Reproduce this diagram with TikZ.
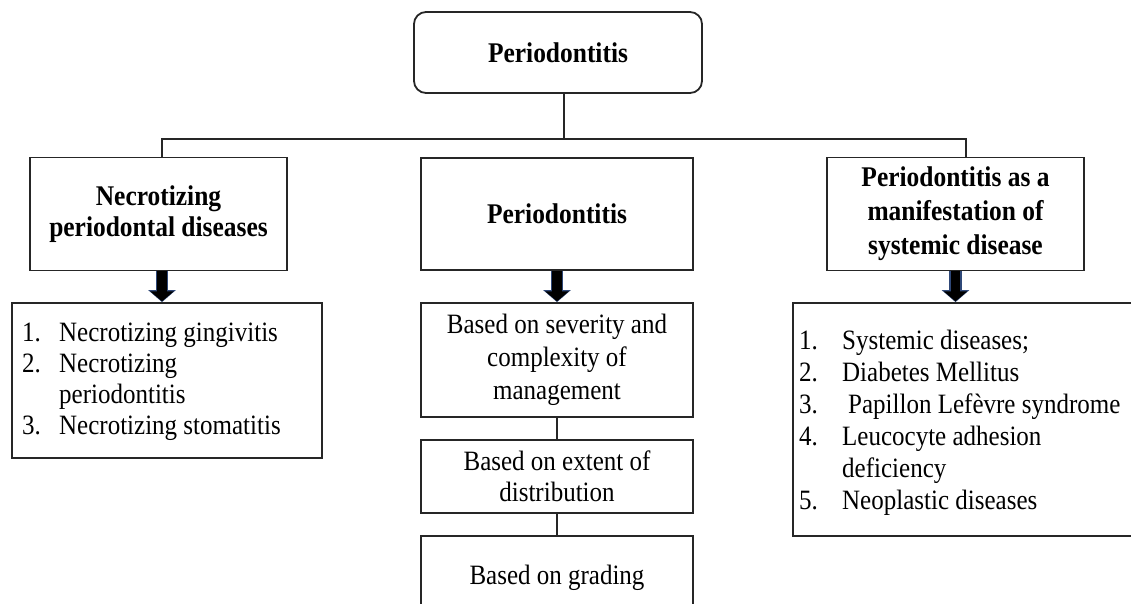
\documentclass[tikz,border=0pt]{standalone}
\usepackage{fontspec}
\setmainfont[FakeStretch=0.893]{Liberation Serif}
\usetikzlibrary{arrows.meta}
\definecolor{arrowedge}{RGB}{47,72,120}
\begin{document}
\begin{tikzpicture}[x=1pt,y=-1pt,
  box/.style={draw=black!85, line width=1.8pt, rectangle, inner sep=0pt, align=center, font=\fontsize{28}{31}\selectfont},
  hdr/.style={box, font=\fontsize{28.5}{31}\selectfont\bfseries},
  conn/.style={draw=black!85, line width=1.8pt},
  listtext/.style={inner sep=0pt, anchor=base west, font=\fontsize{28}{31}\selectfont},
  arrowback/.style={line width=12.5pt, -{Triangle[width=27pt,length=12pt]}, arrowedge},
  blockarrow/.style={line width=9.5pt, -{Triangle[width=23pt,length=10pt]}, black, shorten >=0.8pt}
]
\useasboundingbox (0,0) rectangle (1131,603);
\clip (0,0) rectangle (1131,603);

% top
\node[hdr, rounded corners=12pt, minimum width=288pt, minimum height=81pt] (top) at (558,52.5) {Periodontitis};

% headers
\node[hdr, minimum width=257pt, minimum height=113pt] (lh) at (158.5,214) {Necrotizing\\periodontal diseases};
\node[hdr, minimum width=272pt, minimum height=112pt] (mh) at (557,214) {Periodontitis};
\node[hdr, minimum width=257pt, minimum height=113pt, font=\fontsize{28.5}{34}\selectfont\bfseries] (rh) at (955.5,214) {Periodontitis as a\\manifestation of\\systemic disease};

% connectors
\coordinate (j) at (564,139);
\coordinate (lj) at (162,139);
\coordinate (rj) at (966,139);
\draw[conn] (top.south -| j) -- (j);
\draw[conn] (lh.north -| lj) -- (lj) -- (rj) -- (rh.north -| rj);

% left list
\node[box, minimum width=310pt, minimum height=155pt] (ll) at (167,380.5) {};
\node[listtext] (llt) at (22,341) {\begin{tabular}[t]{@{}p{37pt}@{}l@{}}
1. & Necrotizing gingivitis\\
2. & Necrotizing\\
   & periodontitis\\
3. & Necrotizing stomatitis
\end{tabular}};

% middle column
\node[box, minimum width=272pt, minimum height=114pt, font=\fontsize{28}{33}\selectfont] (m1) at (557,360) {Based on severity and\\complexity of\\management};
\node[box, minimum width=272pt, minimum height=73pt] (m2) at (557,476.5) {Based on extent of\\distribution};
\node[box, minimum width=272pt, minimum height=84pt] (m3) at (557,578) {Based on grading};
\draw[conn] (m1) -- (m2);
\draw[conn] (m2) -- (m3);

% right list
\node[box, minimum width=347pt, minimum height=233pt] (rl) at (966.5,419.5) {};
\node[listtext, font=\fontsize{28}{32}\selectfont] (rlt) at (799,349) {\begin{tabular}[t]{@{}p{43pt}@{}l@{}}
1. & Systemic diseases;\\
2. & Diabetes Mellitus\\
3. & \hspace{6pt}Papillon Lefèvre syndrome\\
4. & Leucocyte adhesion\\
   & deficiency\\
5. & Neoplastic diseases
\end{tabular}};

% block arrows
\coordinate (la) at ([xshift=3.5pt]lh.south);
\draw[arrowback] (la) -- (la |- ll.north);
\draw[blockarrow] (la) -- (la |- ll.north);
\draw[arrowback] (mh.south) -- (m1.north);
\draw[blockarrow] (mh.south) -- (m1.north);
\draw[arrowback] (rh.south) -- (rh.south |- rl.north);
\draw[blockarrow] (rh.south) -- (rh.south |- rl.north);
\end{tikzpicture}
\end{document}
